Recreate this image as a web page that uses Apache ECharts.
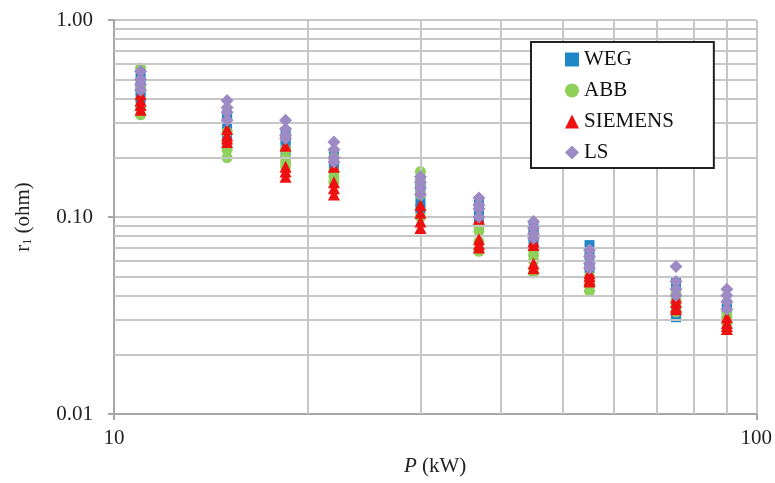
<!DOCTYPE html>
<html>
<head>
<meta charset="utf-8">
<script src="https://cdn.jsdelivr.net/npm/echarts@6/dist/echarts.min.js"></script>
<style>html,body{margin:0;padding:0;background:#fff;}#c{width:775px;height:483px;}</style>
</head>
<body>
<div id="c"></div>
<script>
// Rated power (kW)
const powers = [11, 15, 18.5, 22, 30, 37, 45, 55, 75, 90];
// Stator resistance r1 (ohm), several motors per rating
const wegValues = [
  [0.52, 0.47, 0.44, 0.40], [0.33, 0.31, 0.28, 0.26], [0.27, 0.25, 0.23, 0.21],
  [0.21, 0.19, 0.18, 0.17], [0.15, 0.14, 0.12, 0.11], [0.12, 0.11, 0.10, 0.095],
  [0.09, 0.085, 0.08, 0.075], [0.072, 0.066, 0.06, 0.055], [0.047, 0.042, 0.035, 0.031],
  [0.036, 0.034, 0.032, 0.030]
];
const abbValues = [
  [0.57, 0.45, 0.36, 0.33], [0.27, 0.24, 0.22, 0.20], [0.22, 0.20, 0.19, 0.18],
  [0.20, 0.17, 0.16, 0.15], [0.17, 0.15, 0.13, 0.10], [0.09, 0.085, 0.075, 0.067],
  [0.068, 0.064, 0.06, 0.052], [0.05, 0.048, 0.045, 0.042], [0.041, 0.038, 0.036, 0.033],
  [0.033, 0.031, 0.030, 0.029]
];
const siemensValues = [
  [0.42, 0.39, 0.37, 0.35], [0.28, 0.26, 0.25, 0.24], [0.23, 0.18, 0.17, 0.16],
  [0.18, 0.15, 0.14, 0.13], [0.115, 0.105, 0.095, 0.088], [0.098, 0.077, 0.073, 0.07],
  [0.075, 0.072, 0.058, 0.055], [0.052, 0.05, 0.048, 0.047], [0.039, 0.037, 0.035, 0.034],
  [0.031, 0.029, 0.028, 0.027]
];
const lsValues = [
  [0.55, 0.50, 0.47, 0.44], [0.39, 0.36, 0.34, 0.31], [0.31, 0.28, 0.26, 0.25],
  [0.24, 0.22, 0.20, 0.19], [0.16, 0.15, 0.14, 0.13], [0.125, 0.115, 0.11, 0.10],
  [0.095, 0.088, 0.082, 0.078], [0.068, 0.063, 0.058, 0.055], [0.056, 0.047, 0.043, 0.04],
  [0.043, 0.040, 0.037, 0.034]
];
const seriesNames = ['WEG', 'ABB', 'SIEMENS', 'LS'];
// Minor gridline positions
const xMinorGrid = [20, 30, 40, 50, 60, 70, 80, 90];
const yMinorGrid = [0.02, 0.03, 0.04, 0.05, 0.06, 0.07, 0.08, 0.09, 0.2, 0.3, 0.4, 0.5, 0.6, 0.7, 0.8, 0.9];

function pairs(vals) {
  const out = [];
  powers.forEach((p, i) => vals[i].forEach(v => out.push([p, v])));
  return out;
}

const font = "'Liberation Serif','Times New Roman',serif";
const gridColor = '#c6c6c6';
const chart = echarts.init(document.getElementById('c'), null, {renderer: 'canvas'});

const styles = [
  {symbol: 'rect', size: 10, color: '#1f87c6'},
  {symbol: 'circle', size: 11, color: '#8fd05a'},
  {symbol: 'triangle', size: 12, color: '#ee1111'},
  {symbol: 'diamond', size: 13, color: '#9d8ac4'}
];
const allVals = [wegValues, abbValues, siemensValues, lsValues];

const series = [{
  type: 'scatter', name: '_grid', data: [], silent: true, z: 1,
  markLine: {
    silent: true, symbol: 'none', label: {show: false},
    lineStyle: {color: gridColor, width: 2, type: 'solid'},
    animation: false,
    data: xMinorGrid.map(x => ({xAxis: x})).concat(yMinorGrid.map(y => ({yAxis: y})))
  }
}];
seriesNames.forEach((n, k) => {
  series.push({
    type: 'scatter', name: n, z: 3 + k,
    symbol: styles[k].symbol, symbolSize: styles[k].size,
    itemStyle: {color: styles[k].color, opacity: 1},
    data: pairs(allVals[k])
  });
});

chart.setOption({
  animation: false,
  backgroundColor: '#fff',
  grid: {left: 114, right: 18, top: 20, bottom: 69, containLabel: false},
  legend: {
    z: 20,
    data: seriesNames.map((n, k) => ({name: n, icon: styles[k].symbol})),
    orient: 'vertical', left: 531, top: 42,
    padding: [7, 40, 5, 34], itemGap: 10, itemWidth: 14, itemHeight: 14,
    borderColor: '#222', borderWidth: 2, backgroundColor: '#fff',
    textStyle: {fontFamily: font, fontSize: 21, color: '#111'}
  },
  xAxis: {
    type: 'log', logBase: 10, min: 10, max: 100,
    name: '{i|P} (kW)', nameLocation: 'middle', nameGap: 42,
    nameTextStyle: {fontFamily: font, fontSize: 21, color: '#222',
      rich: {i: {fontFamily: font, fontSize: 21, fontStyle: 'italic', color: '#222'}}},
    axisLine: {lineStyle: {color: '#a6a6a6', width: 2}},
    axisTick: {show: true, length: 6, lineStyle: {color: '#a6a6a6', width: 2}},
    axisLabel: {fontFamily: font, fontSize: 21, color: '#222', margin: 14},
    splitLine: {show: true, lineStyle: {color: gridColor, width: 2}}
  },
  yAxis: {
    type: 'log', logBase: 10, min: 0.01, max: 1,
    name: '{a|r}{s|1}{a| (ohm)}', nameLocation: 'middle', nameGap: 80, nameRotate: 90,
    nameTextStyle: {fontFamily: font, fontSize: 21, color: '#222',
      rich: {a: {fontFamily: font, fontSize: 21, color: '#222'},
             s: {fontFamily: font, fontSize: 12, color: '#222', padding: [9, 0, 0, 0]}}},
    axisLine: {show: true, lineStyle: {color: '#a6a6a6', width: 2}},
    axisTick: {show: true, length: 6, lineStyle: {color: '#a6a6a6', width: 2}},
    axisLabel: {fontFamily: font, fontSize: 21, color: '#222', margin: 21,
      formatter: v => Number(v).toFixed(2)},
    splitLine: {show: true, lineStyle: {color: gridColor, width: 2}}
  },
  series: series
});
</script>
</body>
</html>
